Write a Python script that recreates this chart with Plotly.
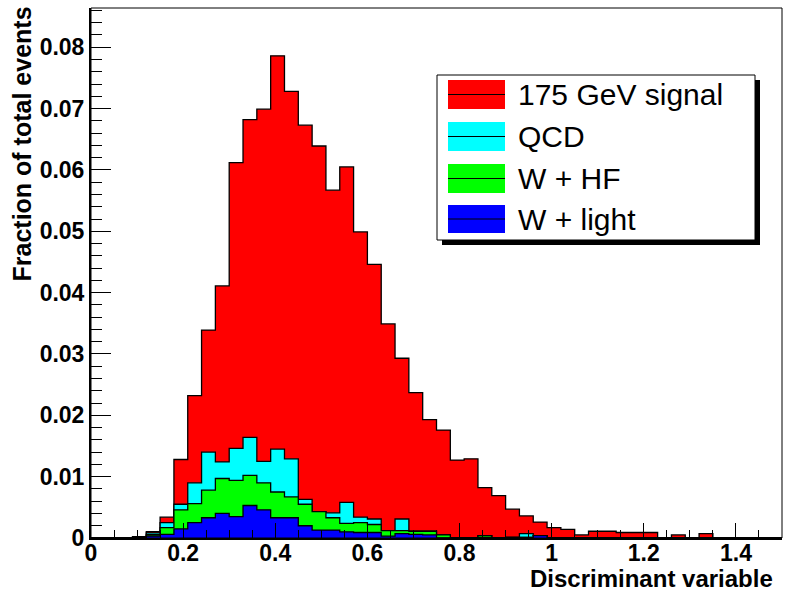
import numpy as np
import plotly.graph_objects as go

# ---- data (fraction of total events per bin, 50 bins of width 0.03 from 0 to 1.5) ----
bin_low = 0.0
bin_width = 0.03
n_bins = 50

signal_175 = [0, 0, 0, 0.0002, 0.00022, 0.0009, 0.0073, 0.0142, 0.0199, 0.0287,
              0.0466, 0.0518, 0.0574, 0.0641, 0.0599, 0.0610, 0.0596, 0.0526, 0.0547, 0.0465,
              0.0415, 0.0337, 0.0262, 0.0226, 0.0182, 0.0171, 0.0127, 0.0129, 0.0078, 0.0069,
              0.0046, 0.0029, 0.0022, 0.0017, 0.0014, 0.0005, 0.0011, 0.0011, 0.0009, 0.0009,
              0.0009, 0, 0.0005, 0, 0.0007, 0, 0, 0, 0, 0]
qcd = [0, 0, 0, 0, 0.00027, 0.0008, 0.0009, 0.0034, 0.0062, 0.0027,
       0.0052, 0.0062, 0.0035, 0.0070, 0.0062, 0.0008, 0, 0.0008, 0.0034, 0.0009,
       0.0009, 0, 0.0019, 0, 0, 0, 0, 0, 0, 0,
       0, 0.0006, 0, 0, 0, 0, 0, 0, 0, 0,
       0, 0, 0, 0, 0, 0, 0, 0, 0, 0]
w_hf = [0, 0, 0, 0, 0.00022, 0.0011, 0.0031, 0.0031, 0.0045, 0.0057,
        0.0059, 0.0049, 0.0044, 0.0042, 0.0034, 0.0035, 0.0030, 0.0020, 0.0014, 0.0016,
        0.0013, 0.0009, 0.0005, 0.0005, 0.0006, 0.0005, 0, 0, 0.0003, 0,
        0, 0, 0, 0, 0, 0, 0, 0, 0, 0,
        0, 0, 0, 0, 0, 0, 0, 0, 0, 0]
w_light = [0, 0, 0, 0, 0.00033, 0.0006, 0.0015, 0.0025, 0.0033, 0.0040,
           0.0035, 0.0053, 0.0046, 0.0033, 0.0033, 0.0020, 0.0013, 0.0013, 0.0010, 0.0009,
           0.0009, 0.0003, 0.0007, 0.0006, 0.0005, 0, 0, 0, 0.0001, 0,
           0.0001, 0.0001, 0.0004, 0, 0, 0, 0, 0, 0, 0,
           0, 0, 0, 0, 0, 0, 0, 0, 0, 0]

legend_labels = ["175 GeV signal", "QCD", "W + HF", "W + light"]
colors = ["#ff0000", "#00ffff", "#00ff00", "#0000ff"]

x_title = "Discriminant variable"
y_title = "Fraction of total events"

# ---- stacking ----
edges = bin_low + bin_width * np.arange(n_bins + 1)
s_light = np.array(w_light)
s_hf = s_light + np.array(w_hf)
s_qcd = s_hf + np.array(qcd)
s_sig = s_qcd + np.array(signal_175)
stacks = [s_sig, s_qcd, s_hf, s_light]

fig = go.Figure()
for vals, col, name in zip(stacks, colors, legend_labels):
    fig.add_trace(go.Scatter(
        x=edges, y=np.append(vals, 0.0), mode="lines", line_shape="hv",
        line=dict(color="black", width=1.3), fill="tozeroy", fillcolor=col,
        name=name, showlegend=False, hoverinfo="skip"))

FONT = "Liberation Sans, Arial, Helvetica, sans-serif"
L, R, T, B = 91, 782, 8, 538
W, H = 785, 591


def fx(px):
    return (px - L) / (R - L)


def fy(py):
    return (B - py) / (B - T)


shapes = [
    dict(type="rect", xref="paper", yref="paper", x0=0, x1=1, y0=0, y1=1,
         line=dict(color="black", width=1), layer="above"),
    dict(type="rect", xref="paper", yref="paper", x0=fx(442), x1=fx(760), y0=fy(245), y1=fy(80),
         fillcolor="black", line=dict(width=0), layer="above"),
    dict(type="rect", xref="paper", yref="paper", x0=fx(437), x1=fx(755), y0=fy(240), y1=fy(75),
         fillcolor="white", line=dict(color="black", width=1), layer="above"),
]
annotations = []
entry_rows = [(80, 109), (122, 151), (164, 193), (205, 233)]
for (top, bot), col, lab in zip(entry_rows, colors, legend_labels):
    shapes.append(dict(type="rect", xref="paper", yref="paper", x0=fx(448), x1=fx(505),
                       y0=fy(bot), y1=fy(top), fillcolor=col, line=dict(width=0), layer="above"))
    mid = (top + bot) / 2
    shapes.append(dict(type="line", xref="paper", yref="paper", x0=fx(448), x1=fx(505),
                       y0=fy(mid), y1=fy(mid), line=dict(color="black", width=1), layer="above"))
    annotations.append(dict(text=lab, xref="paper", yref="paper", x=fx(516), y=fy(mid),
                            xanchor="left", yanchor="middle", showarrow=False,
                            font=dict(family=FONT, size=30, color="black")))

annotations.append(dict(text=x_title, xref="paper", yref="paper", x=fx(775), y=fy(578),
                        xanchor="right", yanchor="middle", showarrow=False,
                        font=dict(family=FONT, size=24, color="black", weight="bold")))
annotations.append(dict(text=y_title, xref="paper", yref="paper", x=fx(22), y=fy(5),
                        xanchor="center", yanchor="top", showarrow=False, textangle=-90,
                        font=dict(family=FONT, size=25, color="black", weight="bold")))

fig.update_layout(
    width=W, height=H,
    margin=dict(l=L, r=W - R, t=T, b=H - B),
    paper_bgcolor="white", plot_bgcolor="white",
    showlegend=False,
    shapes=shapes, annotations=annotations,
    xaxis=dict(range=[0, 1.5], showgrid=False, zeroline=False,
               showline=True, linecolor="black", linewidth=2,
               ticks="inside", ticklen=15, tickwidth=1, tickcolor="black",
               tick0=0, dtick=0.2, ticklabelstandoff=-7,
               minor=dict(ticks="inside", ticklen=8, tickwidth=1, tickcolor="black", dtick=0.05),
               tickfont=dict(family=FONT, size=23, color="black", weight="bold")),
    yaxis=dict(range=[0, 0.0864], showgrid=False, zeroline=False,
               showline=True, linecolor="black", linewidth=2,
               ticks="inside", ticklen=20, tickwidth=1, tickcolor="black",
               tick0=0, dtick=0.01,
               minor=dict(ticks="inside", ticklen=11, tickwidth=1, tickcolor="black", dtick=0.002),
               tickfont=dict(family=FONT, size=23, color="black", weight="bold")),
)

fig.write_html("out.html")
